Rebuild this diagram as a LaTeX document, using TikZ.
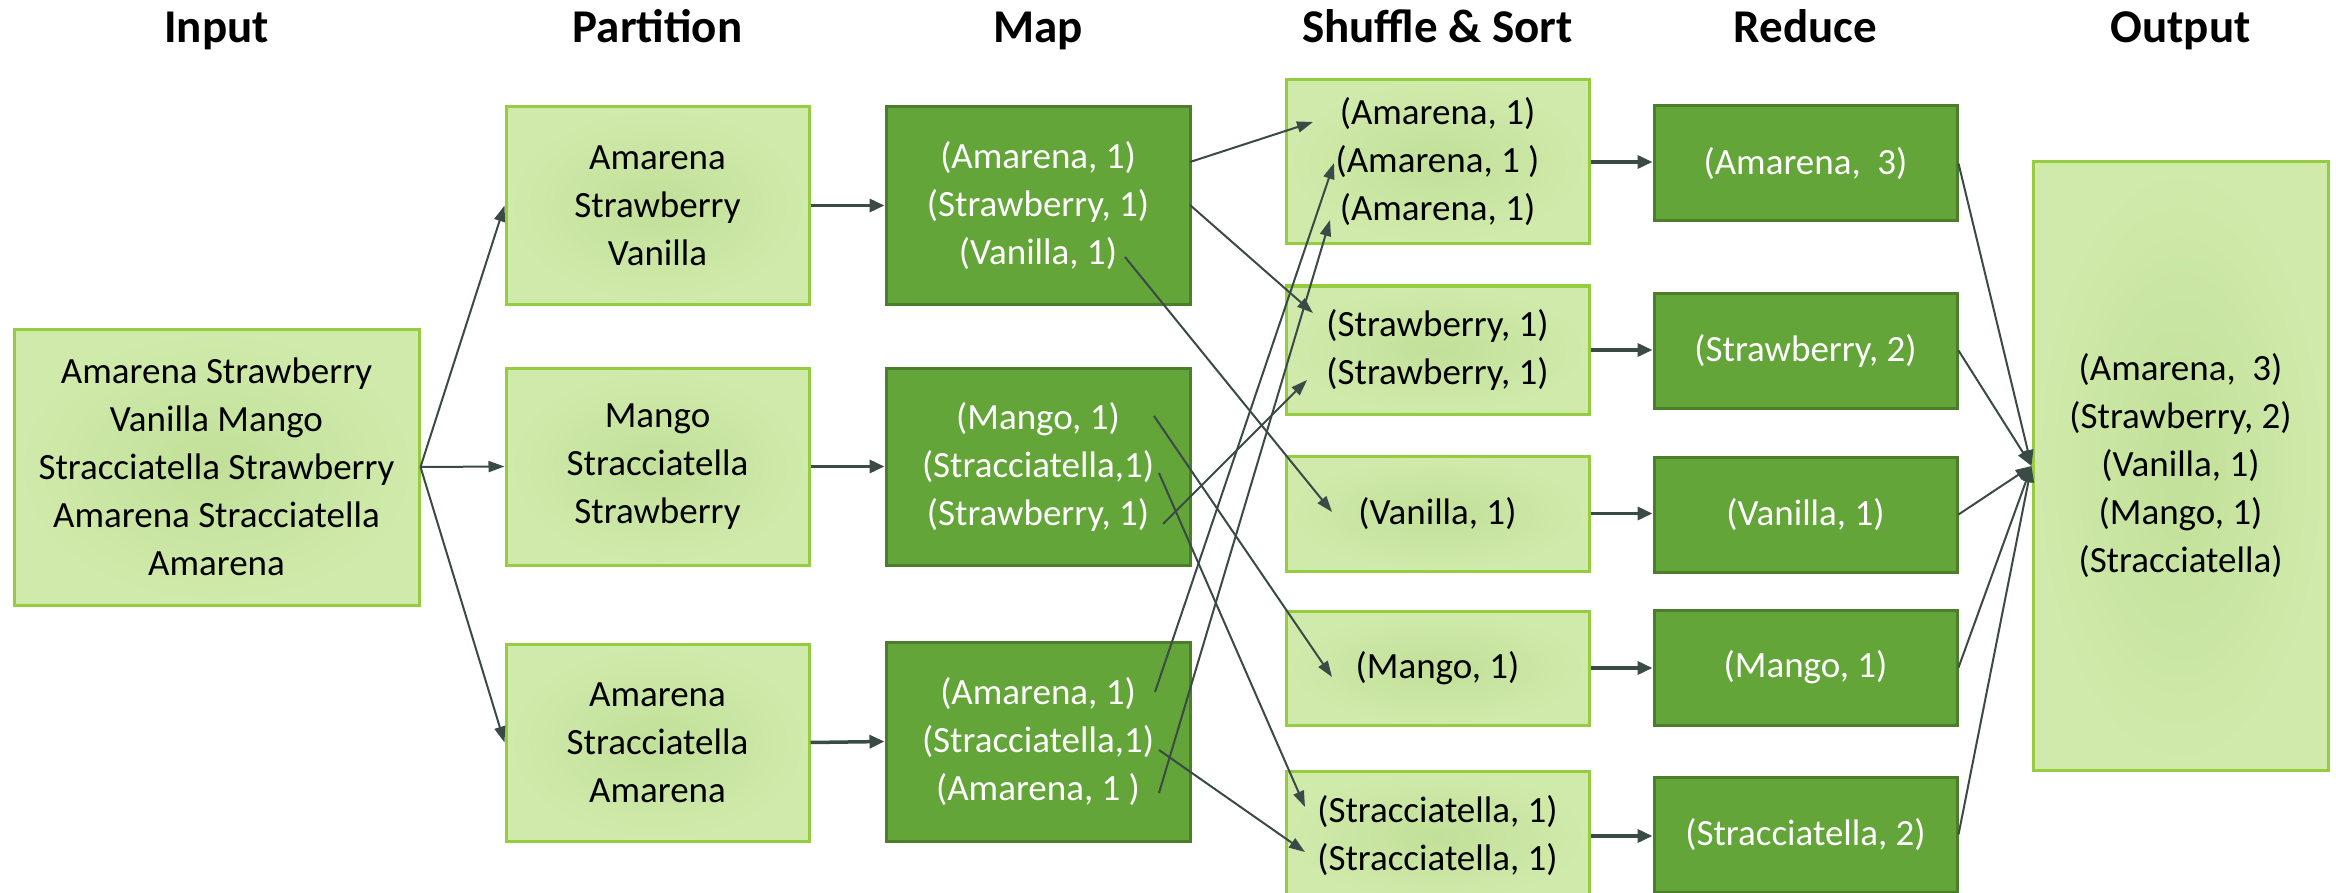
\documentclass[tikz,border=0pt]{standalone}
\usepackage{fontspec}
\setmainfont{Carlito}
\usetikzlibrary{arrows.meta}
\definecolor{lgEdge}{RGB}{208,234,171}
\definecolor{lgCenter}{RGB}{194,224,153}
\definecolor{lgBorder}{RGB}{150,204,64}
\definecolor{dgFill}{RGB}{99,165,56}
\definecolor{dgBorder}{RGB}{76,125,43}
\definecolor{arrowc}{RGB}{58,74,70}
\tikzset{
  lbox/.style={draw=lgBorder, line width=3pt, inner color=lgCenter, outer color=lgEdge, align=center, text=black, font=\fontsize{37}{48}\selectfont, inner sep=0pt},
  dbox/.style={draw=dgBorder, line width=3pt, fill=dgFill, align=center, text=white, font=\fontsize{37}{48}\selectfont, inner sep=0pt},
  title/.style={font=\bfseries\fontsize{47}{56}\selectfont, anchor=base},
  thick arrow/.style={draw=arrowc, line width=3.5pt, -{Triangle[length=15pt,width=13pt]}},
  thin arrow/.style={draw=arrowc, line width=2pt, -{Triangle[length=16pt,width=11pt]}}
}
\begin{document}
\begin{tikzpicture}[x=1pt,y=-1pt]
\useasboundingbox (0,0) rectangle (2336,893);
% titles
\node[title] (tIn) at (216.5,43) {Input};
\node[title] (tPa) at (657.5,43) {Partition};
\node[title] (tMa) at (1038,43) {Map};
\node[title] (tSh) at (1437.5,43) {Shuffle \& Sort};
\node[title] (tRe) at (1805.5,43) {Reduce};
\node[title] (tOu) at (2180.5,43) {Output};
% input
\node[lbox, minimum width=405pt, minimum height=276pt] (in) at (216.5,467) {Amarena Strawberry\\Vanilla Mango\\Stracciatella Strawberry\\Amarena Stracciatella\\Amarena};
% partitions
\node[lbox, minimum width=303pt, minimum height=197pt] (p1) at (657.5,205.5) {Amarena\\Strawberry\\Vanilla};
\node[lbox, minimum width=303pt, minimum height=197pt] (p2) at (657.5,466.5) {Mango\\Stracciatella\\Strawberry};
\node[lbox, minimum width=303pt, minimum height=197pt] (p3) at (657.5,742.5) {Amarena\\Stracciatella\\Amarena};
% map
\node[dbox, minimum width=304pt, minimum height=197pt] (m1) at (1038,205.5) {(Amarena, 1)\\(Strawberry, 1)\\(Vanilla, 1)};
\node[dbox, minimum width=304pt, minimum height=197pt] (m2) at (1038,466.5) {(Mango, 1)\\(Stracciatella,1)\\(Strawberry, 1)};
\node[dbox, minimum width=304pt, minimum height=199pt] (m3) at (1038,741.5) {(Amarena, 1)\\(Stracciatella,1)\\(Amarena, 1 )};
% shuffle
\node[lbox, minimum width=303pt, minimum height=164pt] (s1) at (1437.5,162) {(Amarena, 1)\\(Amarena, 1 )\\(Amarena, 1)};
\node[lbox, minimum width=303pt, minimum height=128pt] (s2) at (1437.5,350) {(Strawberry, 1)\\(Strawberry, 1)};
\node[lbox, minimum width=303pt, minimum height=115pt] (s3) at (1437.5,513.5) {(Vanilla, 1)};
\node[lbox, minimum width=303pt, minimum height=114pt] (s4) at (1437.5,668) {(Mango, 1)};
\node[lbox, minimum width=303pt, minimum height=130pt] (s5) at (1437.5,836) {(Stracciatella, 1)\\(Stracciatella, 1)};
% reduce
\node[dbox, minimum width=303pt, minimum height=115pt] (r1) at (1805.5,163.5) {(Amarena,\ \ 3)};
\node[dbox, minimum width=303pt, minimum height=115pt] (r2) at (1805.5,350.5) {(Strawberry, 2)};
\node[dbox, minimum width=303pt, minimum height=115pt] (r3) at (1805.5,514.5) {(Vanilla, 1)};
\node[dbox, minimum width=303pt, minimum height=115pt] (r4) at (1805.5,667.5) {(Mango, 1)};
\node[dbox, minimum width=303pt, minimum height=115pt] (r5) at (1805.5,834.5) {(Stracciatella, 2)};
% output
\node[lbox, minimum width=295pt, minimum height=608pt] (out) at (2180.5,466) {(Amarena,\ \ 3)\\(Strawberry, 2)\\(Vanilla, 1)\\(Mango, 1)\\(Stracciatella)};
% input -> partitions
\draw[thin arrow] (in.east) -- (p1.west);
\draw[thin arrow] (in.east) -- (p2.west);
\draw[thin arrow] (in.east) -- (p3.west);
% partitions -> map
\draw[thick arrow] (p1.east) -- (m1.west);
\draw[thick arrow] (p2.east) -- (m2.west);
\draw[thick arrow] (p3.east) -- (m3.west);
% map -> shuffle
\coordinate (a1s) at (1190,162);  \coordinate (a1e) at (1313,122);
\coordinate (a2s) at (1190,205);  \coordinate (a2e) at (1313,313);
\coordinate (a3s) at (1125,257);  \coordinate (a3e) at (1332,512);
\coordinate (a4s) at (1154,416);  \coordinate (a4e) at (1332,677);
\coordinate (a5s) at (1159,473);  \coordinate (a5e) at (1305,807);
\coordinate (a6s) at (1163,524);  \coordinate (a6e) at (1307,380);
\coordinate (a7s) at (1155,692);  \coordinate (a7e) at (1334,163);
\coordinate (a8s) at (1159,793);  \coordinate (a8e) at (1330,220);
\coordinate (a9s) at (1159,750);  \coordinate (a9e) at (1305,852);
\foreach \i in {1,...,9} {\draw[thin arrow] (a\i s) -- (a\i e);}
% shuffle -> reduce
\draw[thick arrow] (s1.east) -- (s1.east -| r1.west);
\draw[thick arrow] (s2.east) -- (s2.east -| r2.west);
\draw[thick arrow] (s3.east) -- (s3.east -| r3.west);
\draw[thick arrow] (s4.east) -- (s4.east -| r4.west);
\draw[thick arrow] (s5.east) -- (s5.east -| r5.west);
% reduce -> output
\foreach \i in {1,...,5} {\draw[thin arrow] (r\i.east) -- (out.west);}
\end{tikzpicture}
\end{document}
